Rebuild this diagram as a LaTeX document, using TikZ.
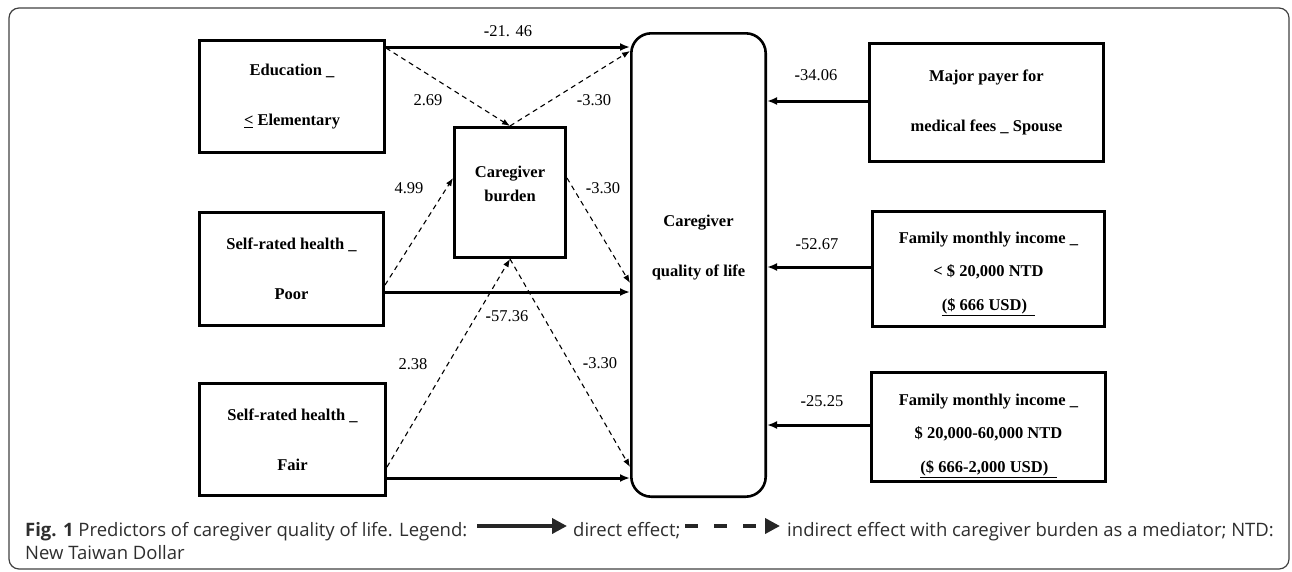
\documentclass[tikz,border=0pt]{standalone}
\usepackage{fontspec}
\setmainfont{Liberation Serif}
\newfontfamily\capfont{Open Sans}
\usetikzlibrary{arrows.meta}
\tikzset{
  box/.style={draw, line width=2.6pt, inner sep=0pt, align=center,
    font=\bfseries\fontsize{16.5}{50}\selectfont},
  boxtxt/.style={inner sep=0pt, align=center, font=\bfseries\fontsize{16.5}{50}\selectfont},
  direct/.style={line width=3pt, -{Latex[length=10pt,width=8pt]}},
  indirect/.style={line width=1.1pt, dash pattern=on 5pt off 4pt, -{Latex[length=8pt,width=6pt]}},
  lbl/.style={inner sep=0pt, font=\fontsize{16.5}{18}\selectfont},
  captxt/.style={inner sep=0pt, text=black!82, font=\capfont\fontsize{18.5}{22}\selectfont},
  legdirect/.style={line width=3.6pt, black!85, -{Triangle[length=15pt,width=15pt]}},
  legindirect/.style={line width=3.6pt, black!85, dash pattern=on 13pt off 16pt, -{Triangle[length=15pt,width=15pt]}},
}
\begin{document}
\begin{tikzpicture}[x=1pt,y=-1pt]
\useasboundingbox (0,0) rectangle (1292,571);
\draw[rounded corners=10pt, line width=1.2pt, black!75] (9,8) rectangle (1289,569);

% boxes
\node[box, minimum width=185.4pt, minimum height=112.4pt] (edu) at (292,96.5) {Education \_\\\underline{<} Elementary};
\node[box, minimum width=184.4pt, minimum height=113.4pt] (poor) at (291.5,269) {Self-rated health \_\\Poor};
\node[box, minimum width=186.4pt, minimum height=112.4pt] (fair) at (292.5,439.5) {Self-rated health \_\\Fair};
\node[box, minimum width=111.4pt, minimum height=130.4pt] (burden) at (510,192.5) {};
\node[boxtxt, font=\bfseries\fontsize{16.5}{24}\selectfont] (burdentxt) at (510,184) {Caregiver\\burden};
\node[box, rounded corners=20pt, minimum width=134.4pt, minimum height=463.4pt] (qol) at (698.5,265) {};
\node[boxtxt] (qoltxt) at (698.5,248) {Caregiver\\quality of life};
\node[box, minimum width=234.4pt, minimum height=118.4pt] (major) at (986.5,102.5) {Major payer for\\medical fees \_ Spouse};
\node[box, minimum width=232.4pt, minimum height=115.4pt] (fam1) at (988.5,269) {};
\node[boxtxt, font=\bfseries\fontsize{16.5}{33.5}\selectfont] (fam1txt) at (988.5,274) {Family monthly income \_\\< \$ 20,000 NTD\\\underline{(\$ 666 USD)\ \ }};
\node[box, minimum width=234.4pt, minimum height=109.4pt] (fam2) at (988.5,427) {};
\node[boxtxt, font=\bfseries\fontsize{16.5}{33.5}\selectfont] (fam2txt) at (988.5,436) {Family monthly income \_\\\$ 20,000-60,000 NTD\\\underline{(\$ 666-2,000 USD)\ \ }};

% direct effects
\draw[direct] (edu.east |- 0,47) -- (qol.west |- 0,47);
\draw[direct] (poor.east |- 0,292) -- (qol.west |- 0,292);
\draw[direct] (fair.east |- 0,478) -- (qol.west |- 0,478);
\draw[direct] (major.west |- 0,101) -- (qol.east |- 0,101);
\draw[direct] (fam1.west |- 0,267) -- (qol.east |- 0,267);
\draw[direct] (fam2.west |- 0,425) -- (qol.east |- 0,425);

% indirect effects
\draw[indirect] (edu.east |- 0,48) -- (burden.north);
\draw[indirect] (burden.north) -- (qol.west |- 0,51);
\draw[indirect] (poor.east |- 0,285) -- (burden.west |- 0,178);
\draw[indirect] (burden.east |- 0,178) -- (qol.west |- 0,283);
\draw[indirect] (fair.east |- 0,467) -- (burden.south);
\draw[indirect] (burden.south) -- (qol.west |- 0,467);

% coefficient labels
\node[lbl] (c1) at (508,31) {{\bfseries -}21. 46};
\node[lbl] (c2) at (428,100) {2.69};
\node[lbl] (c3) at (594,100) {{\bfseries -}3.30};
\node[lbl] (c4) at (409,188) {4.99};
\node[lbl] (c5) at (603,188) {{\bfseries -}3.30};
\node[lbl] (c6) at (507,316) {{\bfseries -}57.36};
\node[lbl] (c7) at (413,364) {2.38};
\node[lbl] (c8) at (600,363) {{\bfseries -}3.30};
\node[lbl] (c9) at (816,75) {{\bfseries -}34.06};
\node[lbl] (c10) at (817,244) {{\bfseries -}52.67};
\node[lbl] (c11) at (822,401) {{\bfseries -}25.25};

% caption
\node[captxt, anchor=base west] (cap1) at (25,536) {\textbf{Fig. 1} Predictors of caregiver quality of life. Legend:};
\node[captxt, anchor=base west] (cap2) at (573,536) {direct effect;};
\node[captxt, anchor=base west] (cap3) at (787,536) {indirect effect with caregiver burden as a mediator; NTD:};
\node[captxt, anchor=base west] (cap4) at (25,559) {New Taiwan Dollar};
\draw[legdirect] ([xshift=-96pt,yshift=10pt]cap2.base west) -- ([xshift=-6pt,yshift=10pt]cap2.base west);
\draw[legindirect] ([xshift=-102pt,yshift=10pt]cap3.base west) -- ([xshift=-7pt,yshift=10pt]cap3.base west);
\end{tikzpicture}
\end{document}
